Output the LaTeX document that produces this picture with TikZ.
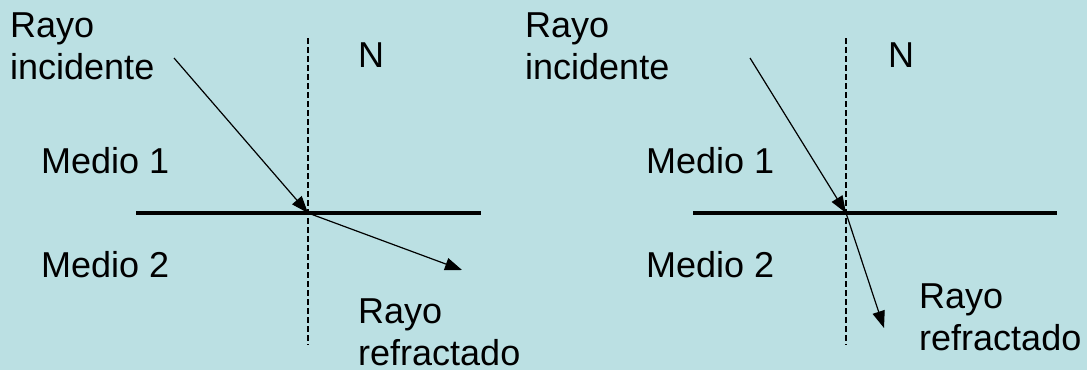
\documentclass[tikz,border=0pt]{standalone}
\usepackage{fontspec}
\setmainfont{Liberation Sans}
\usetikzlibrary{arrows.meta,positioning}
\definecolor{fondo}{RGB}{187,224,227}

\begin{document}
\begin{tikzpicture}[x=1pt,y=-1pt,
    etiqueta/.style={inner sep=0pt,align=left,anchor=base west,font=\fontsize{36}{42}\selectfont},
    normal/.style={dash pattern=on 6pt off 3pt,line width=1.3pt},
    interfaz/.style={line width=4.5pt},
    rayo/.style={-{Triangle[length=17pt,width=12.5pt]},line width=1.2pt}]
    \useasboundingbox (0,0) rectangle (1087,370);
    \fill[fondo] (0,0) rectangle (1087,370);
    % primer caso
    \coordinate (o1) at (308,213);
    \coordinate (n1a) at (308,38);
    \coordinate (n1b) at (308,345);
    \coordinate (s1a) at (136,213);
    \coordinate (s1b) at (481,213);
    \coordinate (i1) at (174,58);
    \coordinate (r1) at (462,270);
    \node[etiqueta] (inc1) at (10,79) {Rayo\\incidente};
    \node[etiqueta] (N1) at (358,67) {N};
    \node[etiqueta] (m11) at (41,173) {Medio 1};
    \node[etiqueta] (m12) at (41,277) {Medio 2};
    \node[etiqueta] (ref1) at (358,365) {Rayo\\refractado};
    \draw[normal] (n1a) -- (n1b);
    \draw[interfaz] (s1a) -- (s1b);
    \path[rayo]
    (i1) edge (o1)
    (o1) edge (r1);
    % segundo caso
    \coordinate (o2) at (846,213);
    \coordinate (n2a) at (846,38);
    \coordinate (n2b) at (846,345);
    \coordinate (s2a) at (693,213);
    \coordinate (s2b) at (1057,213);
    \coordinate (i2) at (750,58);
    \coordinate (r2) at (884,328);
    \node[etiqueta] (inc2) at (525,79) {Rayo\\incidente};
    \node[etiqueta] (N2) at (888,67) {N};
    \node[etiqueta] (m21) at (646,173) {Medio 1};
    \node[etiqueta] (m22) at (646,277) {Medio 2};
    \node[etiqueta] (ref2) at (919,350) {Rayo\\refractado};
    \draw[normal] (n2a) -- (n2b);
    \draw[interfaz] (s2a) -- (s2b);
    \path[rayo]
    (i2) edge (o2)
    (o2) edge (r2);
\end{tikzpicture}
\end{document}
